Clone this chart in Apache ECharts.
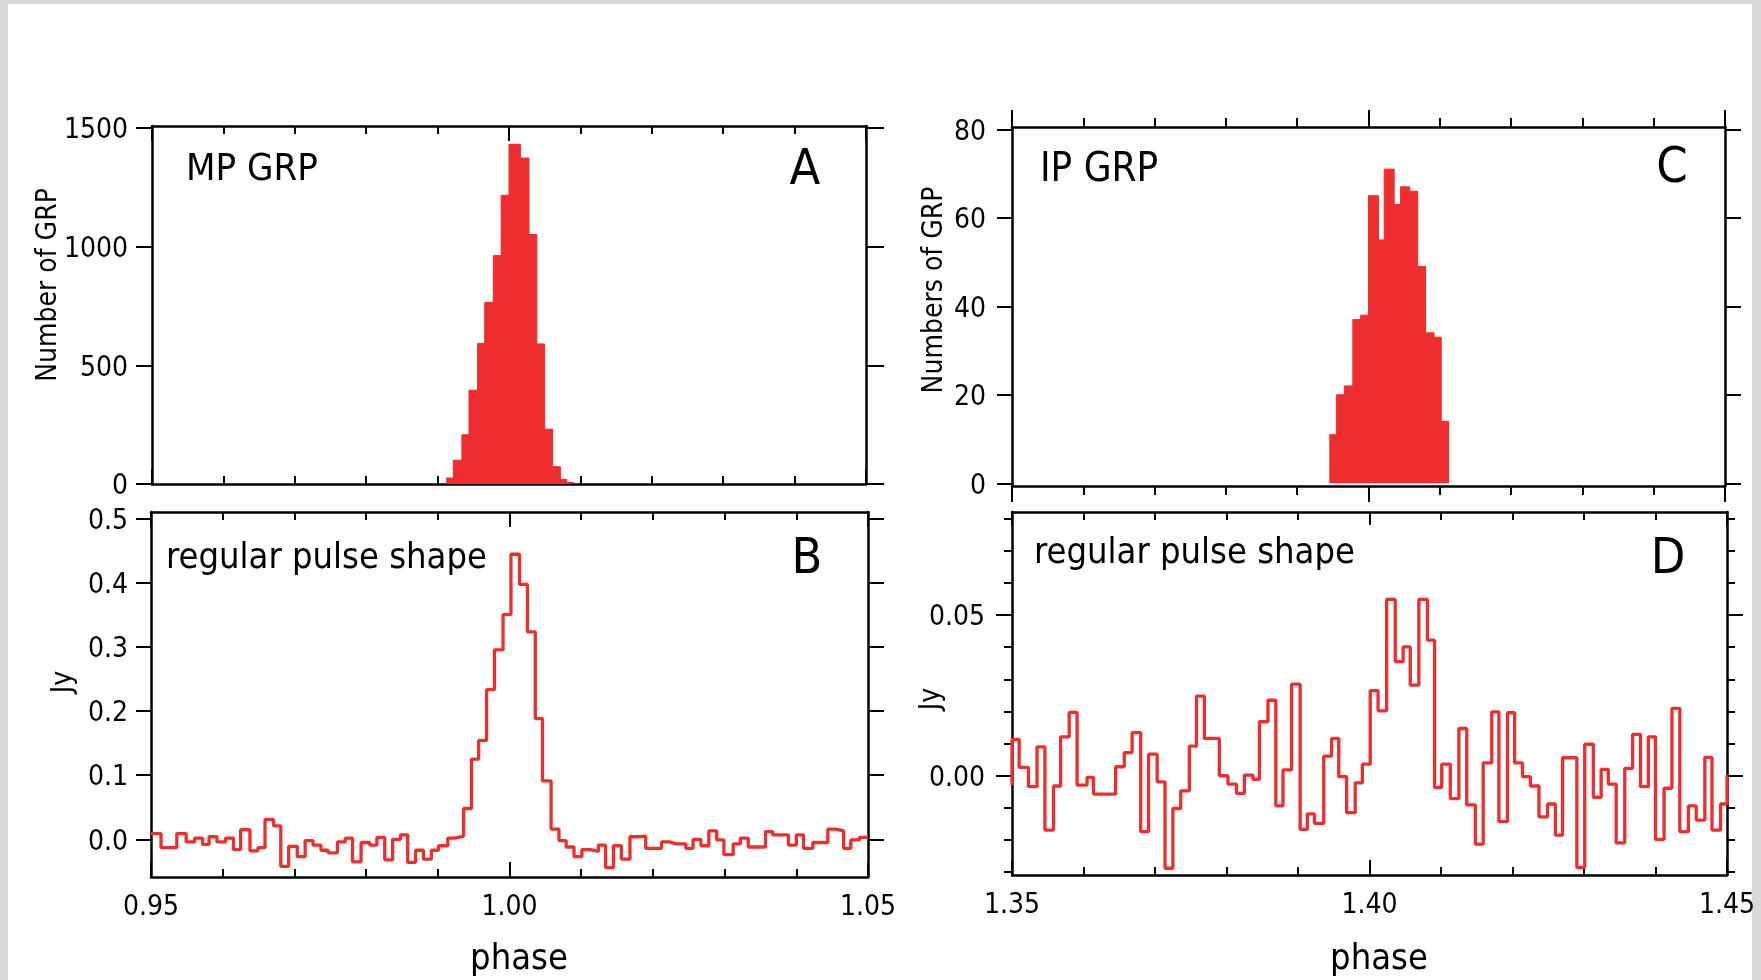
<!DOCTYPE html>
<html><head><meta charset="utf-8">
<script src="https://cdn.jsdelivr.net/npm/echarts@6/dist/echarts.min.js"></script>
<style>
html,body{margin:0;padding:0;background:#d9d9d9;width:1761px;height:980px;overflow:hidden}
#paper{position:absolute;left:8px;top:4px;width:1744px;height:976px;background:#fff}
#chart{position:absolute;left:0;top:0;width:1761px;height:980px}
</style></head><body><div id="paper"></div><div id="chart"></div>
<script>
// ---------- DATA ----------
// Panel A: main-pulse GRP histogram (bin edges in phase, counts per bin)
const mpEdges = [0.9912, 0.9922, 0.9934, 0.9944, 0.9956, 0.9966, 0.9978, 0.9989, 1.0000, 1.0016, 1.0028, 1.0039, 1.0050, 1.0061, 1.0072, 1.0081, 1.0091];
const mpCounts = [25, 100, 207, 395, 592, 765, 962, 1216, 1431, 1373, 1051, 590, 231, 73, 20, 6];

// Panel C: interpulse GRP histogram
const ipEdges = [1.3945, 1.3955, 1.3966, 1.3978, 1.3989, 1.4000, 1.4014, 1.4022, 1.4036, 1.4045, 1.4058, 1.4069, 1.4080, 1.4092, 1.4102, 1.4113];
const ipCounts = [11, 20, 22, 37, 38, 65, 55, 71, 63, 67, 66, 49, 34, 33, 14];

// Panel B: regular pulse shape around main pulse (bin edges, flux in Jy)
const mpPhase = [0.9500, 0.9514, 0.9536, 0.9549, 0.9561, 0.9572, 0.9581, 0.9592, 0.9604, 0.9615,
  0.9625, 0.9638, 0.9649, 0.9659, 0.9671, 0.9681, 0.9692, 0.9704, 0.9715, 0.9726,
  0.9737, 0.9747, 0.9760, 0.9771, 0.9781, 0.9793, 0.9805, 0.9815, 0.9826, 0.9837,
  0.9848, 0.9858, 0.9869, 0.9880, 0.9891, 0.9901, 0.9914, 0.9924, 0.9936, 0.9947,
  0.9957, 0.9968, 0.9979, 0.9991, 1.0002, 1.0014, 1.0025, 1.0036, 1.0046, 1.0058,
  1.0069, 1.0079, 1.0090, 1.0101, 1.0113, 1.0124, 1.0134, 1.0145, 1.0156, 1.0168,
  1.0179, 1.0190, 1.0200, 1.0212, 1.0223, 1.0233, 1.0246, 1.0256, 1.0267, 1.0278,
  1.0289, 1.0299, 1.0312, 1.0322, 1.0333, 1.0344, 1.0357, 1.0367, 1.0378, 1.0389,
  1.0400, 1.0410, 1.0423, 1.0433, 1.0444, 1.0455, 1.0466, 1.0476, 1.0488, 1.0500];
const mpFlux = [0.009, -0.013, 0.009, -0.004, 0.002, -0.008, 0.004, -0.004, 0.002, -0.016,
  0.015, -0.018, -0.013, 0.031, 0.021, -0.042, -0.011, -0.027, -0.002, -0.009,
  -0.017, -0.021, -0.004, 0.002, -0.035, -0.005, -0.009, 0.003, -0.032, 0.000,
  0.007, -0.036, -0.017, -0.031, -0.017, -0.010, 0.002, 0.005, 0.048, 0.125,
  0.154, 0.233, 0.295, 0.350, 0.444, 0.397, 0.323, 0.188, 0.091, 0.016,
  -0.002, -0.012, -0.027, -0.016, -0.019, -0.009, -0.044, -0.010, -0.031, 0.004,
  0.005, -0.014, -0.014, -0.004, -0.007, -0.007, -0.014, 0.000, -0.010, 0.013,
  -0.001, -0.024, -0.007, 0.002, -0.012, -0.012, 0.012, 0.007, 0.007, -0.009,
  0.007, -0.014, -0.005, -0.005, 0.016, 0.013, -0.014, -0.001, 0.003];

// Panel D: regular pulse shape around interpulse
const ipPhase = [1.3500, 1.3510, 1.3523, 1.3535, 1.3546, 1.3558, 1.3568, 1.3580, 1.3591, 1.3605,
  1.3614, 1.3645, 1.3657, 1.3668, 1.3680, 1.3691, 1.3703, 1.3714, 1.3725, 1.3736,
  1.3748, 1.3758, 1.3769, 1.3790, 1.3802, 1.3814, 1.3825, 1.3837, 1.3846, 1.3858,
  1.3869, 1.3879, 1.3891, 1.3903, 1.3913, 1.3923, 1.3936, 1.3947, 1.3957, 1.3968,
  1.3980, 1.3990, 1.4001, 1.4012, 1.4024, 1.4036, 1.4047, 1.4057, 1.4069, 1.4081,
  1.4091, 1.4101, 1.4113, 1.4125, 1.4136, 1.4148, 1.4159, 1.4171, 1.4181, 1.4193,
  1.4203, 1.4214, 1.4225, 1.4237, 1.4249, 1.4260, 1.4270, 1.4290, 1.4301, 1.4313,
  1.4324, 1.4334, 1.4345, 1.4357, 1.4368, 1.4379, 1.4390, 1.4400, 1.4412, 1.4423,
  1.4434, 1.4446, 1.4457, 1.4469, 1.4479, 1.4491, 1.4500];
const ipFlux = [0.0113, 0.0026, -0.0034, 0.0090, -0.0169, -0.0032, 0.0121, 0.0197, -0.0029, -0.0005,
  -0.0057, 0.0028, 0.0072, 0.0134, -0.0174, 0.0067, -0.0019, -0.0288, -0.0102, -0.0047,
  0.0092, 0.0248, 0.0116, 0.0000, -0.0026, -0.0055, 0.0002, -0.0011, 0.0168, 0.0235,
  -0.0094, 0.0018, 0.0285, -0.0167, -0.0119, -0.0148, 0.0061, 0.0116, -0.0003, -0.0115,
  -0.0022, 0.0036, 0.0265, 0.0202, 0.0549, 0.0355, 0.0401, 0.0282, 0.0549, 0.0422,
  -0.0036, 0.0036, -0.0071, 0.0147, -0.0091, -0.0213, 0.0040, 0.0199, -0.0143, 0.0196,
  0.0040, -0.0003, -0.0032, -0.0128, -0.0088, -0.0185, 0.0056, -0.0285, 0.0098, -0.0067,
  0.0020, -0.0026, -0.0209, 0.0023, 0.0129, -0.0034, 0.0121, -0.0198, -0.0039, 0.0210,
  -0.0174, -0.0094, -0.0138, 0.0057, -0.0169, -0.0088];
const ipStartFlux = -0.0029;
const ipEndFlux = 0.0002;

// Tick values
const xMajorMP = [0.95, 1.00, 1.05];
const xMinorMP = [0.96, 0.97, 0.98, 0.99, 1.01, 1.02, 1.03, 1.04];
const xMajorIP = [1.35, 1.40, 1.45];
const xMinorIP = [1.36, 1.37, 1.38, 1.39, 1.41, 1.42, 1.43, 1.44];
const yTicksA = [0, 500, 1000, 1500];
const yTicksB = [0, 0.1, 0.2, 0.3, 0.4, 0.5];
const yTicksC = [0, 20, 40, 60, 80];
const yMajorD = [0, 0.05];
const yMinorD = [-0.03, -0.02, -0.01, 0.01, 0.02, 0.03, 0.04, 0.06, 0.07, 0.08];

// ---------- CHART ----------
const RED = '#ee2e2e';
const FONT = "'DejaVu Sans Condensed', 'DejaVu Sans', sans-serif";
const chart = echarts.init(document.getElementById('chart'), null, {renderer: 'canvas'});

const grids = [
  {left: 152, top: 126, width: 714, height: 358},
  {left: 151, top: 512, width: 717, height: 365},
  {left: 1012, top: 127, width: 713, height: 359},
  {left: 1012, top: 512, width: 715, height: 363}
].map(g => Object.assign({containLabel: false, outerBoundsMode: 'none', show: false}, g));

const xAxes = [], yAxes = [];
function side(list, grid, position, range, major, minor, inside, majLen, minLen, label) {
  const base = {type: 'value', gridIndex: grid, position, min: range[0], max: range[1],
    splitLine: {show: false}, minorTick: {show: false}, minorSplitLine: {show: false}};
  const tickStyle = {color: '#000', width: 2};
  let lab = {show: false};
  if (label) {
    lab = {show: true, customValues: major, margin: label.margin, color: '#000', fontSize: 28, fontFamily: FONT};
    if (label.shift) {
      lab.formatter = v => '{t|' + label.fmt(v) + '}';
      lab.rich = {t: {fontSize: 28, fontFamily: FONT, color: '#000', padding: [label.shift, 0, 0, 0]}};
    } else {
      lab.formatter = label.fmt;
    }
  }
  list.push(Object.assign({}, base, {
    axisLine: {show: true, onZero: false, lineStyle: {color: '#000', width: 2.5}},
    axisTick: {show: true, inside, length: majLen, customValues: major, lineStyle: tickStyle},
    axisLabel: lab
  }));
  const idx = list.length - 1;
  if (minor && minor.length) {
    list.push(Object.assign({}, base, {
      axisLine: {show: false, onZero: false},
      axisTick: {show: true, inside, length: minLen, customValues: minor, lineStyle: tickStyle},
      axisLabel: {show: false}
    }));
  }
  return idx;
}
const f2 = v => v.toFixed(2), f1 = v => v.toFixed(1), f0 = v => String(Math.round(v));
const rA = {x: [0.95, 1.05], y: [0, 1508]};
const rB = {x: [0.95, 1.05], y: [-0.0587, 0.5098]};
const rC = {x: [1.35, 1.45], y: [-0.61, 80.52]};
const rD = {x: [1.35, 1.45], y: [-0.0309, 0.0821]};

// Panel A
const axA = side(xAxes, 0, 'bottom', rA.x, xMajorMP, xMinorMP, true, 15, 8, null);
side(xAxes, 0, 'top', rA.x, xMajorMP, xMinorMP, true, 15, 8, null);
const ayA = side(yAxes, 0, 'left', rA.y, yTicksA, null, false, 16, 0, {fmt: f0, margin: 24, shift: 6});
side(yAxes, 0, 'right', rA.y, yTicksA, null, false, 18, 0, null);
// Panel B
const axB = side(xAxes, 1, 'bottom', rB.x, xMajorMP, xMinorMP, true, 15, 8, {fmt: f2, margin: 17});
side(xAxes, 1, 'top', rB.x, xMajorMP, xMinorMP, true, 15, 8, null);
const ayB = side(yAxes, 1, 'left', rB.y, yTicksB, null, false, 15, 0, {fmt: f1, margin: 23, shift: 6});
side(yAxes, 1, 'right', rB.y, yTicksB, null, false, 16, 0, null);
// Panel C
const axC = side(xAxes, 2, 'bottom', rC.x, xMajorIP, xMinorIP, false, 16, 9, null);
side(xAxes, 2, 'top', rC.x, xMajorIP, xMinorIP, false, 17, 9, null);
const ayC = side(yAxes, 2, 'left', rC.y, yTicksC, null, false, 15, 0, {fmt: f0, margin: 26, shift: 6});
side(yAxes, 2, 'right', rC.y, yTicksC, null, false, 16, 0, null);
// Panel D
const axD = side(xAxes, 3, 'bottom', rD.x, xMajorIP, xMinorIP, true, 15, 8, {fmt: f2, margin: 17});
side(xAxes, 3, 'top', rD.x, xMajorIP, xMinorIP, true, 13, 8, null);
const ayD = side(yAxes, 3, 'left', rD.y, yMajorD, yMinorD, false, 16, 8, {fmt: f2, margin: 27, shift: 6});
side(yAxes, 3, 'right', rD.y, yMajorD, yMinorD, false, 16, 8, null);

function stepData(edges, vals) {
  return edges.map((x, i) => [x, vals[Math.min(i, vals.length - 1)]]);
}
const dataA = stepData(mpEdges, mpCounts);
const dataC = stepData(ipEdges, ipCounts);
const dataB = stepData(mpPhase, mpFlux);
const dataD = [[ipPhase[0], ipStartFlux]].concat(stepData(ipPhase, ipFlux), [[ipPhase[ipPhase.length - 1], ipEndFlux]]);

const histStyle = {type: 'line', step: 'end', symbol: 'none', silent: true, animation: false,
  lineStyle: {color: RED, width: 1}, areaStyle: {color: RED, opacity: 1}};
const lineStyleS = {type: 'line', step: 'end', symbol: 'none', silent: true, animation: false,
  lineStyle: {color: RED, width: 3.3}};

function txt(text, x, y, size, align, valign, rot) {
  const el = {type: 'text', x, y, silent: true, z: 100,
    style: {text, fill: '#000', fontSize: size, fontFamily: FONT, textAlign: align, textVerticalAlign: valign}};
  if (rot) el.rotation = rot;
  return el;
}

chart.setOption({
  animation: false,
  backgroundColor: 'transparent',
  grid: grids,
  xAxis: xAxes,
  yAxis: yAxes,
  series: [
    Object.assign({}, histStyle, {xAxisIndex: axA, yAxisIndex: ayA, data: dataA}),
    Object.assign({}, lineStyleS, {xAxisIndex: axB, yAxisIndex: ayB, data: dataB}),
    Object.assign({}, histStyle, {xAxisIndex: axC, yAxisIndex: ayC, data: dataC}),
    Object.assign({}, lineStyleS, {xAxisIndex: axD, yAxisIndex: ayD, data: dataD})
  ],
  graphic: [
    txt('MP GRP', 186, 170, 38, 'left', 'middle'),
    txt('A', 805, 171, 50, 'center', 'middle'),
    txt('IP GRP', 1040, 171, 40, 'left', 'middle'),
    txt('C', 1672, 169, 50, 'center', 'middle'),
    txt('regular pulse shape', 166, 559, 36, 'left', 'middle'),
    txt('B', 807, 560, 50, 'center', 'middle'),
    txt('regular pulse shape', 1034, 554, 36, 'left', 'middle'),
    txt('D', 1668, 560, 50, 'center', 'middle'),
    txt('Number of GRP', 49, 285, 28, 'center', 'middle', Math.PI / 2),
    txt('Numbers of GRP', 935, 290, 28, 'center', 'middle', Math.PI / 2),
    txt('Jy', 64, 682, 28, 'center', 'middle', Math.PI / 2),
    txt('Jy', 932, 699, 28, 'center', 'middle', Math.PI / 2),
    txt('phase', 519, 960, 36, 'center', 'middle'),
    txt('phase', 1379, 960, 36, 'center', 'middle')
  ]
});
</script></body></html>
